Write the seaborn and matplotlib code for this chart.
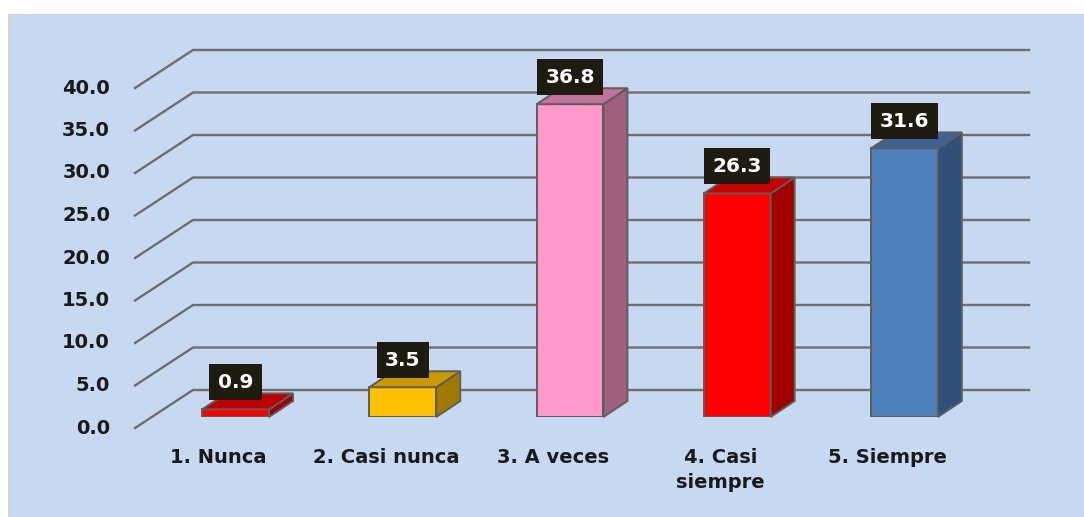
import matplotlib
matplotlib.use("Agg")
import matplotlib.pyplot as plt
from matplotlib.patches import Polygon, Rectangle
from matplotlib.lines import Line2D
from matplotlib.transforms import IdentityTransform
import numpy as np
import pandas as pd
import seaborn as sns

# ---------------- data ----------------
categories = ["1. Nunca", "2. Casi nunca", "3. A veces", "4. Casi\nsiempre", "5. Siempre"]
values = [0.9, 3.5, 36.8, 26.3, 31.6]
value_labels = ["0.9", "3.5", "36.8", "26.3", "31.6"]
yticks = [0, 5, 10, 15, 20, 25, 30, 35, 40]
ytick_labels = ["0.0", "5.0", "10.0", "15.0", "20.0", "25.0", "30.0", "35.0", "40.0"]

# ---------------- styles ----------------
front_colors = ["#FF0000", "#FFC000", "#FF99CC", "#FF0000", "#4F81BD"]
top_colors = ["#C00000", "#CC9A00", "#C2739B", "#C80000", "#3C6394"]
side_colors = ["#A00000", "#A37A00", "#A0607F", "#A00000", "#30507A"]
edge = "#5E5E5E"
grid_col = "#6E6E6E"
bg = "#C6D9F0"

plt.rcParams["font.family"] = ["DejaVu Sans"]

W, H = 1084, 517
fig = plt.figure(figsize=(W / 100, H / 100), dpi=100)
fig.patch.set_facecolor("white")
fig.patches.append(Rectangle((11 / W, 0), 1 - 11 / W, (H - 14) / H, transform=fig.transFigure,
                             facecolor=bg, edgecolor="none", zorder=-2))
fig.patches.append(Rectangle((8 / W, 0), 3 / W, (H - 14) / H, transform=fig.transFigure,
                             facecolor="#D4D4D4", edgecolor="none", zorder=-2))

# axes = the plane of the bar fronts
ax = fig.add_axes([152 / W, 100 / H, 836 / W, 340 / H])
ax.set_facecolor("none")

df = pd.DataFrame({"cat": categories, "val": values})
sns.barplot(data=df, x="cat", y="val", hue="cat", palette=front_colors, legend=False,
            width=0.4, saturation=1, edgecolor=edge, linewidth=1.4, ax=ax, zorder=3)
ax.set_xlim(-0.5, len(categories) - 0.5)
ax.set_ylim(0, 40)
ax.axis("off")

# pixel offsets for the pseudo 3D depth (display coords, y up)
front_off = np.array([-17.0, -11.0])
back_off = np.array([41.0, 27.0])
depth_off = np.array([24.0, 16.0])
ident = IdentityTransform()


def pt(x, y, off=(0.0, 0.0)):
    return ax.transData.transform((x, y)) + np.asarray(off)


xmin, xmax = ax.get_xlim()

# gridlines: diagonal on the left wall + horizontal on the back wall
for t, lab in zip(yticks, ytick_labels):
    f = pt(xmin, t, front_off)
    b = pt(xmin, t, back_off)
    r = pt(xmax, t, back_off)
    ax.add_line(Line2D([f[0], b[0], r[0]], [f[1], b[1], r[1]], transform=ident,
                       color=grid_col, lw=1.7, zorder=1, clip_on=False))
    ax.text(f[0] - 25, f[1], lab, transform=ident, ha="right", va="center",
            fontsize=14, fontweight="bold", color="#1A1A1A")

# 3D faces of bars
for i, p in enumerate(ax.patches):
    x0 = p.get_x()
    x1 = x0 + p.get_width()
    h = p.get_height()
    a = pt(x0, h)
    b = pt(x1, h)
    c = pt(x1, 0)
    side = Polygon([c, b, b + depth_off, c + depth_off], closed=True, transform=ident,
                   facecolor=side_colors[i], edgecolor=edge, lw=1.4, zorder=3, clip_on=False)
    top = Polygon([a, b, b + depth_off, a + depth_off], closed=True, transform=ident,
                  facecolor=top_colors[i], edgecolor=edge, lw=1.4, zorder=3, clip_on=False)
    ax.add_patch(side)
    ax.add_patch(top)
    center = pt((x0 + x1) / 2, h)
    ax.text(center[0], center[1] + 27, value_labels[i], transform=ident, ha="center", va="center",
            fontsize=14.5, fontweight="bold", color="white", zorder=6,
            bbox=dict(boxstyle="square,pad=0.42", facecolor="#1E1B10", edgecolor="none"))

# category labels on the front plane
for i, cat in enumerate(categories):
    q = pt(i, 0, front_off)
    ax.text(q[0], q[1] - 20, cat, transform=ident, ha="center", va="top",
            fontsize=14, fontweight="bold", color="#1A1A1A", linespacing=1.4)

fig.savefig("out.png", dpi=100, facecolor=fig.get_facecolor())
